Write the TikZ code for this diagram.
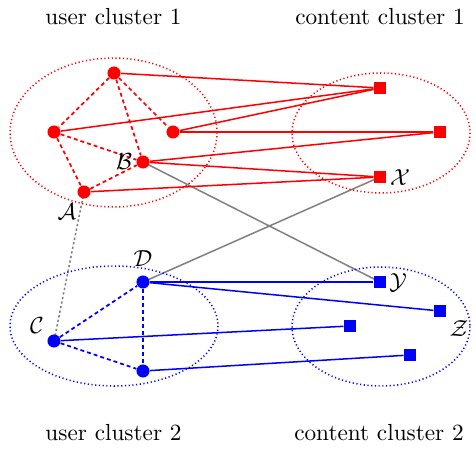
\documentclass[tikz,border=0pt]{standalone}
\usetikzlibrary{backgrounds}
\definecolor{myred}{RGB}{255,0,0}
\definecolor{myblue}{RGB}{0,0,255}
\definecolor{mygray}{RGB}{128,128,128}
\begin{document}
\begin{tikzpicture}[x=0.43pt,y=-0.43pt,
  usr/.style={circle,fill,inner sep=0pt,minimum size=5.6pt},
  cnt/.style={rectangle,fill,inner sep=0pt,minimum size=5.2pt},
  clus/.style={line width=0.65pt,dash pattern=on 0.5pt off 1.1pt},
  intra/.style={line width=0.75pt,dash pattern=on 1.7pt off 1.3pt},
  inter/.style={line width=0.65pt},
  grayline/.style={mygray,line width=0.65pt},
  lbl/.style={inner sep=0pt,anchor=base},
  ml/.style={inner sep=0pt}]
\useasboundingbox (0,0) rectangle (476,452);
% cluster ellipses
\draw[clus,myred] (113.5,132.5) ellipse [x radius=103.5, y radius=74.5];
\draw[clus,myred] (381,133) ellipse [x radius=89, y radius=60];
\draw[clus,myblue] (114,326) ellipse [x radius=104, y radius=60];
\draw[clus,myblue] (381,326.5) ellipse [x radius=89, y radius=59.5];
% titles
\node[lbl] (t1) at (113.5,25) {user cluster 1};
\node[lbl] (t2) at (380,25) {content cluster 1};
\node[lbl] (t3) at (113.5,440) {user cluster 2};
\node[lbl] (t4) at (379,440) {content cluster 2};
% user cluster 1
\node[usr,myred] (u1) at (114,73) {};
\node[usr,myred] (u2) at (54,132) {};
\node[usr,myred] (u3) at (173,132) {};
\node[usr,myred] (b) at (143,162) {};
\node[usr,myred] (a) at (84,192) {};
% content cluster 1
\node[cnt,myred] (x1) at (380,88) {};
\node[cnt,myred] (x2) at (440,132) {};
\node[cnt,myred] (x) at (380,177) {};
% user cluster 2
\node[usr,myblue] (d) at (143,282) {};
\node[usr,myblue] (c) at (54,341) {};
\node[usr,myblue] (e) at (143,371) {};
% content cluster 2
\node[cnt,myblue] (y) at (380,282) {};
\node[cnt,myblue] (z) at (440,311) {};
\node[cnt,myblue] (w) at (350,326) {};
\node[cnt,myblue] (v) at (410,355) {};
% labels
\node[ml] (la) at (67,212) {$\mathcal{A}$};
\node[ml] (lb) at (124,162) {$\mathcal{B}$};
\node[ml] (lx) at (400,178) {$\mathcal{X}$};
\node[ml] (ld) at (143,259) {$\mathcal{D}$};
\node[ml] (lc) at (37,326) {$\mathcal{C}$};
\node[ml] (ly) at (398,283) {$\mathcal{Y}$};
\node[ml] (lz) at (459,329) {$\mathcal{Z}$};
\begin{scope}[on background layer]
% gray edges
\draw[grayline] (b.center) -- (y.center);
\draw[grayline] (d.center) -- (x.center);
\draw[grayline,dash pattern=on 1pt off 1pt] (a.center) -- (c.center);
% intra user edges
\draw[intra,myred] (u1) -- (u2);
\draw[intra,myred] (u1) -- (u3);
\draw[intra,myred] (u1) -- (b);
\draw[intra,myred] (u2) -- (a);
\draw[intra,myred] (u2) -- (b);
\draw[intra,myred] (a) -- (b);
\draw[intra,myblue] (c) -- (d);
\draw[intra,myblue] (c) -- (e);
\draw[intra,myblue] (d) -- (e);
% user-content edges
\draw[inter,myred] (u1) -- (x1);
\draw[inter,myred] (u2) -- (x1);
\draw[inter,myred] (u3) -- (x1);
\draw[inter,myred] (u3) -- (x2);
\draw[inter,myred] (b) -- (x2);
\draw[inter,myred] (b) -- (x);
\draw[inter,myred] (a) -- (x);
\draw[inter,myblue] (d) -- (y);
\draw[inter,myblue] (d) -- (z);
\draw[inter,myblue] (c) -- (w);
\draw[inter,myblue] (e) -- (v);
\end{scope}
\end{tikzpicture}
\end{document}
